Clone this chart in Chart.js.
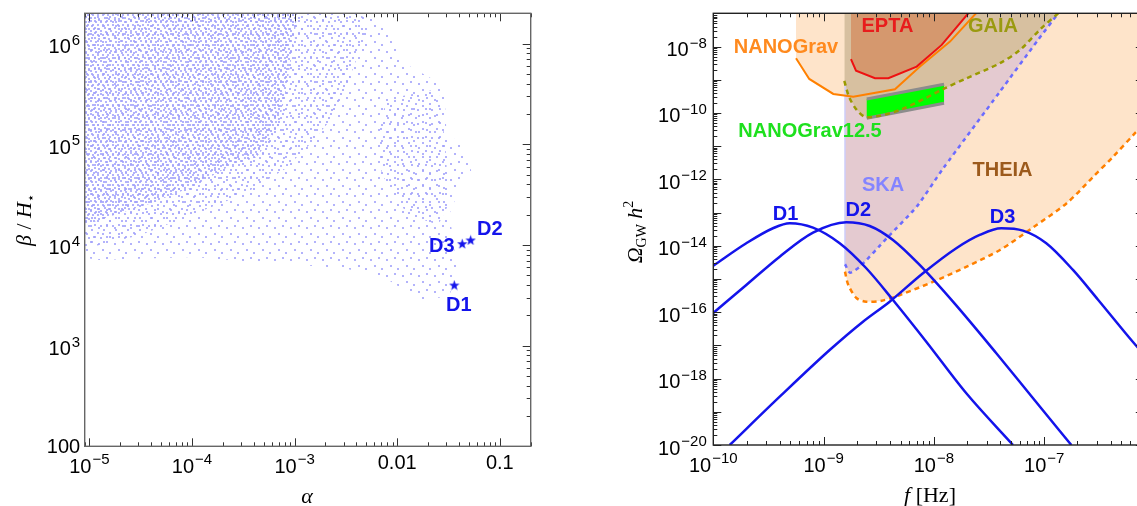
<!DOCTYPE html>
<html>
<head>
<meta charset="utf-8">
<script src="https://cdn.jsdelivr.net/npm/chart.js@4.4.1/dist/chart.umd.min.js"></script>
<style>
  html, body { margin: 0; padding: 0; background: #fff; overflow: hidden; }
  #wrap { position: relative; width: 1137px; height: 506px; overflow: hidden; }
  #scanBox { position: absolute; left: 0; top: 0; }
  #specBox { position: absolute; left: 580px; top: 0; }
</style>
</head>
<body>
<div id="wrap">
  <div id="scanBox"><canvas id="scanChart" width="560" height="506"></canvas></div>
  <div id="specBox"><canvas id="spectrumChart" width="570" height="506"></canvas></div>
</div>
<script>
// ---------- left panel: alpha vs beta/H ----------
const alphaTicks = [1e-5, 1e-4, 1e-3, 0.01, 0.1];
const alphaTickText = ["10^\u22125", "10^\u22124", "10^\u22123", "0.01", "0.1"];
const betaTicks = [100, 1e3, 1e4, 1e5, 1e6];
const betaTickText = ["100", "10^3", "10^4", "10^5", "10^6"];

// outline of the scan cloud (log10 alpha, log10 beta/H)
const cloudOuterLogA = [-5.1, -2.39, -2.08, -1.99, -1.87, -1.645, -1.54, -1.52, -1.384, -1.279, -1.384, -1.49, -1.42, -1.49, -1.77, -2.13, -2.53, -3.26, -3.99, -4.9, -5.1];
const cloudOuterLogB = [6.5, 6.5, 6.07, 5.92, 5.77, 5.64, 5.54, 5.11, 5.01, 4.74, 4.58, 4.31, 3.78, 3.49, 3.45, 3.68, 3.77, 3.82, 3.88, 3.85, 3.88];
const cloudMidLogA = [-5.1, -2.39, -2.3, -2.45, -2.6, -2.85, -3.1, -3.5, -4.0, -4.5, -5.1];
const cloudMidLogB = [6.5, 6.5, 6.1, 5.7, 5.3, 5.0, 4.75, 4.5, 4.3, 4.1, 3.95];
const cloudCoreLogA = [-5.1, -2.95, -3.02, -3.09, -3.16, -3.37, -3.64, -3.99, -4.41, -4.72, -5.1];
const cloudCoreLogB = [6.5, 6.5, 5.93, 5.5, 5.17, 4.87, 4.78, 4.58, 4.41, 4.31, 4.18];
const cloudBandLogA = [-2.1, -1.6, -1.53, -1.5, -1.6, -1.9, -2.15, -2.2];
const cloudBandLogB = [5.45, 5.55, 5.0, 4.4, 4.2, 4.3, 4.7, 5.1];

// benchmark points
const benchNames = ["D1", "D2", "D3"];
const benchAlpha = [0.036, 0.052, 0.043];
const benchBeta = [4000, 11200, 10300];
const benchLabelAt = [[0.0398, 2520], [0.0798, 14350], [0.0272, 9730]];

// ---------- right panel: GW spectra (log10 f, log10 Omega h^2) ----------
const freqTicks = [1e-10, 1e-9, 1e-8, 1e-7];
const freqTickText = ["10^\u221210", "10^\u22129", "10^\u22128", "10^\u22127"];
const omegaTicks = [1e-20, 1e-18, 1e-16, 1e-14, 1e-12, 1e-10, 1e-8];
const omegaTickText = ["10^\u221220", "10^\u221218", "10^\u221216", "10^\u221214", "10^\u221212", "10^\u221210", "10^\u22128"];

const nanogravLogF = [-9.25, -9.13, -8.912, -8.731, -8.353, -8.126, -7.854, -7.618];
const nanogravLogO = [-8.353, -8.976, -9.428, -9.509, -9.286, -8.605, -7.852, -7.0];
const eptaLogF = [-8.752, -8.706, -8.534, -8.413, -8.156, -7.929, -7.688];
const eptaLogO = [-8.382, -8.726, -8.955, -8.955, -8.605, -7.952, -7.0];
const gaiaLogF = [-8.812, -8.770, -8.700, -8.609, -8.307, -7.899, -7.703, -7.401, -7.219, -7.035, -6.872];
const gaiaLogO = [-9.036, -9.509, -9.910, -10.130, -9.910, -9.256, -8.955, -8.503, -8.102, -7.479, -7.0];
const skaLogF = [-8.806, -8.761, -8.670, -8.428, -8.156, -7.915, -7.401, -7.056, -6.872];
const skaLogO = [-14.557, -14.810, -14.630, -13.774, -12.822, -11.666, -9.358, -7.801, -7.0];
const theiaLogF = [-8.806, -8.776, -8.700, -8.613, -8.473, -8.307, -8.005, -7.703, -7.401, -7.099, -6.796, -6.555, -6.374, -6.177, -6.0];
const theiaLogO = [-14.780, -15.181, -15.581, -15.684, -15.654, -15.482, -15.081, -14.630, -14.127, -13.443, -12.720, -11.919, -11.316, -10.611, -10.0];
const ng125LogF = [-8.609, -7.908, -7.908, -8.609];
const ng125LogO = [-9.578, -9.135, -9.708, -10.160];

const d1LogF = [-10.003, -9.701, -9.459, -9.307, -9.096, -8.854, -8.613, -8.371, -8.069, -7.706, -7.283];
const d1LogO = [-14.608, -13.925, -13.473, -13.322, -13.455, -13.925, -14.678, -15.633, -16.889, -18.443, -20.0];
const d2LogF = [-10.003, -9.701, -9.398, -9.096, -8.794, -8.582, -8.371, -8.129, -7.827, -7.434, -7.101, -6.754];
const d2LogO = [-16.033, -15.181, -14.328, -13.605, -13.292, -13.404, -13.825, -14.578, -15.684, -17.238, -18.593, -20.0];
const d3LogF = [-9.851, -9.398, -8.945, -8.643, -8.401, -8.099, -7.797, -7.585, -7.389, -7.192, -6.981, -6.739, -6.51, -6.195, -6.05];
const d3LogO = [-20.0, -18.545, -17.139, -16.286, -15.684, -14.828, -14.075, -13.675, -13.473, -13.545, -13.925, -14.729, -15.633, -16.9, -17.45];

const spectrumNotes = [
  ["EPTA", -8.421, -7.410, "#e81c1c"],
  ["GAIA", -7.464, -7.410, "#9a9a10"],
  ["NANOGrav", -9.341, -8.027, "#ff8a1e"],
  ["NANOGrav12.5", -9.123, -10.563, "#1ee01e"],
  ["THEIA", -7.378, -11.738, "#9c5a1c"],
  ["SKA", -8.461, -12.190, "#8484ff"],
  ["D1", -9.344, -13.072, "#1414eb"],
  ["D2", -8.685, -12.946, "#1414eb"],
  ["D3", -7.378, -13.148, "#1414eb"],
];

// ---------- helpers ----------
const toPts = (lx, ly) => lx.map((v, i) => ({ x: 10 ** v, y: 10 ** ly[i] }));
const tickFont = '20px "Liberation Sans", Arial, Helvetica, sans-serif';
const supFont = '15px "Liberation Sans", Arial, Helvetica, sans-serif';
const markFont = 'bold 20px "Liberation Sans", Arial, Helvetica, sans-serif';
const serif = '"Liberation Serif", "Times New Roman", serif';
const blue = "#1414eb";

function logMarks(min, max) {
  const marks = [];
  for (let e = Math.floor(Math.log10(min)); e <= Math.ceil(Math.log10(max)); e++) {
    for (let k = 1; k < 10; k++) {
      const v = k * Math.pow(10, e);
      if (v >= min * 0.999 && v <= max * 1.001) marks.push({ v, major: k === 1 });
    }
  }
  return marks;
}

function drawPow(ctx, text, x, y, align) {
  const parts = text.split("^");
  ctx.font = tickFont;
  const wb = ctx.measureText(parts[0]).width;
  let we = 0;
  if (parts[1]) { ctx.font = supFont; we = ctx.measureText(parts[1]).width + 1; }
  const w = wb + we;
  const x0 = align === "center" ? x - w / 2 : x - w;
  ctx.textAlign = "left";
  ctx.textBaseline = "alphabetic";
  ctx.font = tickFont;
  ctx.fillText(parts[0], x0, y);
  if (parts[1]) { ctx.font = supFont; ctx.fillText(parts[1], x0 + wb + 1, y - 8.5); }
}

function drawRich(ctx, parts, x, y, rotate) {
  let w = 0;
  const widths = parts.map((p) => { ctx.font = p.font; const pw = ctx.measureText(p.t).width; w += pw; return pw; });
  ctx.save();
  ctx.translate(x, y);
  if (rotate) ctx.rotate(-Math.PI / 2);
  ctx.textAlign = "left";
  ctx.textBaseline = "alphabetic";
  ctx.fillStyle = "#000";
  let cx = -w / 2;
  parts.forEach((p, i) => { ctx.font = p.font; ctx.fillText(p.t, cx, p.dy || 0); cx += widths[i]; });
  ctx.restore();
}

// Mathematica-like frame: ticks pointing inside, labels with exponents
function makeFrame(cfg) {
  return {
    id: "frame",
    afterDraw(chart) {
      const { ctx, chartArea: a } = chart;
      const xs = chart.scales.x, ys = chart.scales.y;
      ctx.save();
      ctx.strokeStyle = cfg.tickColor;
      ctx.lineWidth = 1;
      ctx.beginPath();
      for (const m of logMarks(xs.min, xs.max)) {
        const p = Math.round(xs.getPixelForValue(m.v)) + 0.5;
        const len = m.major ? 8 : 4;
        ctx.moveTo(p, a.bottom); ctx.lineTo(p, a.bottom - len);
        ctx.moveTo(p, a.top); ctx.lineTo(p, a.top + len);
      }
      for (const m of logMarks(ys.min, ys.max)) {
        const p = Math.round(ys.getPixelForValue(m.v)) + 0.5;
        const len = m.major ? 8 : 4;
        ctx.moveTo(a.right, p); ctx.lineTo(a.right - len, p);
        if (cfg.leftTicks) { ctx.moveTo(a.left, p); ctx.lineTo(a.left + len, p); }
      }
      ctx.stroke();
      ctx.strokeStyle = cfg.frameColor;
      ctx.lineWidth = 1.4;
      ctx.strokeRect(a.left, a.top, a.right - a.left, a.bottom - a.top);

      ctx.fillStyle = "#000";
      cfg.xTicks.forEach((v, i) => {
        const t = cfg.xText[i];
        drawPow(ctx, t, xs.getPixelForValue(v), a.bottom + (t.includes("^") ? 26.5 : 23), "center");
      });
      cfg.yTicks.forEach((v, i) => {
        const t = cfg.yText[i];
        drawPow(ctx, t, a.left - cfg.yGap, ys.getPixelForValue(v) + (t.includes("^") ? 9.5 : 7), "right");
      });
      cfg.titles.forEach((tt) => drawRich(ctx, tt.parts, tt.x, tt.y, tt.rotate));
      ctx.restore();
    },
  };
}

function makeNotes(items) {
  return {
    id: "notes",
    afterDatasetsDraw(chart) {
      const { ctx } = chart;
      ctx.save();
      ctx.font = markFont;
      ctx.textAlign = "center";
      ctx.textBaseline = "middle";
      items.forEach(([text, xv, yv, color]) => {
        ctx.fillStyle = color;
        ctx.fillText(text, chart.scales.x.getPixelForValue(xv), chart.scales.y.getPixelForValue(yv));
      });
      ctx.restore();
    },
  };
}

function starImage(size, color) {
  const c = document.createElement("canvas");
  c.width = c.height = size;
  const g = c.getContext("2d");
  g.fillStyle = color;
  g.beginPath();
  for (let i = 0; i < 10; i++) {
    const r = i % 2 ? size * 0.2 : size * 0.5;
    const ang = -Math.PI / 2 + (i * Math.PI) / 5;
    g.lineTo(size / 2 + r * Math.cos(ang), size / 2 + 0.5 + r * Math.sin(ang));
  }
  g.closePath();
  g.fill();
  return c;
}

// texture for the dense scan cloud
function dotPattern(ctx, tile, spots, color) {
  const c = document.createElement("canvas");
  c.width = c.height = tile;
  const g = c.getContext("2d");
  g.fillStyle = color;
  spots.forEach(([u, v]) => g.fillRect(u, v, 2, 2));
  return ctx.createPattern(c, "repeat");
}

const shape = (pts, bg, order) => ({
  data: pts, showLine: true, fill: "shape", backgroundColor: bg,
  borderColor: "transparent", borderWidth: 0, pointRadius: 0, order,
});

// ---------- left chart ----------
const scanCtx = document.getElementById("scanChart").getContext("2d");
const dotColor = "rgba(160,160,250,0.8)";
new Chart(scanCtx, {
  type: "scatter",
  data: {
    datasets: [
      shape(toPts(cloudOuterLogA, cloudOuterLogB), dotPattern(scanCtx, 16, [[2, 3], [10, 1], [6, 9], [13, 12]], dotColor), 6),
      shape(toPts(cloudMidLogA, cloudMidLogB), dotPattern(scanCtx, 12, [[1, 4], [7, 1], [10, 8], [4, 9]], dotColor), 5),
      shape(toPts(cloudBandLogA, cloudBandLogB), dotPattern(scanCtx, 14, [[2, 2], [9, 5], [5, 10], [11, 11]], dotColor), 4),
      shape(toPts(cloudCoreLogA, cloudCoreLogB), dotPattern(scanCtx, 10, [[0, 0], [5, 1], [2, 4], [7, 4], [4, 7], [8, 8]], dotColor), 3),
      {
        data: benchAlpha.map((a, i) => ({ x: a, y: benchBeta[i] })),
        pointStyle: starImage(11, blue),
        pointRadius: 5,
        order: 1,
      },
    ],
  },
  options: {
    responsive: false,
    devicePixelRatio: 1,
    animation: false,
    layout: { padding: { left: 0, right: 29.3, top: 13.3, bottom: 0 } },
    plugins: { legend: { display: false }, tooltip: { enabled: false } },
    scales: {
      x: {
        type: "logarithmic", min: 9e-6, max: 0.2,
        ticks: { display: false }, grid: { display: false }, border: { display: false },
        afterFit: (s) => { s.height = 59.7; },
      },
      y: {
        type: "logarithmic", min: 100, max: 2e6,
        ticks: { display: false }, grid: { display: false }, border: { display: false },
        afterFit: (s) => { s.width = 84.7; },
      },
    },
  },
  plugins: [
    makeNotes(benchNames.map((n, i) => [n, benchLabelAt[i][0], benchLabelAt[i][1], blue])),
    makeFrame({
      tickColor: "#333", frameColor: "#666", leftTicks: false, yGap: 4.5,
      xTicks: alphaTicks, xText: alphaTickText, yTicks: betaTicks, yText: betaTickText,
      titles: [
        { parts: [{ t: "\u03b1", font: "italic 22px " + serif }], x: 307, y: 503 },
        {
          parts: [
            { t: "\u03b2", font: "italic 22px " + serif },
            { t: " / ", font: "22px " + serif },
            { t: "H", font: "italic 22px " + serif },
            { t: "\u22c6", font: "13px DejaVu Sans, sans-serif", dy: 4 },
          ],
          x: 31, y: 220, rotate: true,
        },
      ],
    }),
  ],
});

// ---------- right chart ----------
const specCtx = document.getElementById("spectrumChart").getContext("2d");
const fillEnd = (lx, ly, bg, order) => ({
  data: toPts(lx, ly), showLine: true, fill: "end", backgroundColor: bg,
  borderColor: "transparent", borderWidth: 0, pointRadius: 0, order,
});
const curve = (pts, color, width, dash, tension, order) => ({
  data: pts, showLine: true, fill: false, borderColor: color, borderWidth: width,
  borderDash: dash, tension, pointRadius: 0, order,
});
const spectrum = (pts, order) => ({
  data: pts, showLine: true, fill: false, borderColor: blue, borderWidth: 2.5,
  cubicInterpolationMode: "monotone", pointRadius: 0, order,
});
const peach = "rgb(254,228,202)";

new Chart(specCtx, {
  type: "scatter",
  data: {
    datasets: [
      fillEnd(theiaLogF, theiaLogO, peach, 40),
      fillEnd(nanogravLogF, nanogravLogO, peach, 39),
      fillEnd(skaLogF, skaLogO, "rgb(228,202,208)", 38),
      fillEnd(gaiaLogF, gaiaLogO, "rgb(215,192,160)", 37),
      fillEnd(eptaLogF, eptaLogO, "rgb(213,152,110)", 36),
      shape(toPts(ng125LogF, ng125LogO), "#00ff00", 35),
      curve(toPts(ng125LogF.slice(0, 2), ng125LogO.slice(0, 2)), "#8c8c8c", 3, [], 0, 34),
      curve(toPts(ng125LogF.slice(2), ng125LogO.slice(2)), "#8c8c8c", 3, [], 0, 33),
      curve(toPts([skaLogF[0], skaLogF[0]], [gaiaLogO[0], skaLogO[0]]), "rgb(205,205,250)", 1.5, [], 0, 32),
      curve(toPts(theiaLogF, theiaLogO), "#ff8000", 2.5, [5, 4], 0.3, 20),
      curve(toPts(skaLogF, skaLogO), "#6b6bff", 2.5, [4, 4], 0.2, 19),
      curve(toPts(gaiaLogF, gaiaLogO), "#9a9a00", 2.5, [5, 4], 0.3, 18),
      curve(toPts(nanogravLogF, nanogravLogO), "#ff8000", 2, [], 0, 17),
      curve(toPts(eptaLogF, eptaLogO), "#ee1111", 2, [], 0, 16),
      spectrum(toPts(d1LogF, d1LogO), 3),
      spectrum(toPts(d2LogF, d2LogO), 2),
      spectrum(toPts(d3LogF, d3LogO), 1),
    ],
  },
  options: {
    responsive: false,
    devicePixelRatio: 1,
    animation: false,
    layout: { padding: { left: 0, right: 6.2, top: 13.3, bottom: 0 } },
    plugins: { legend: { display: false }, tooltip: { enabled: false } },
    scales: {
      x: {
        type: "logarithmic", min: 1e-10, max: 8e-7,
        ticks: { display: false }, grid: { display: false }, border: { display: false },
        afterFit: (s) => { s.height = 61; },
      },
      y: {
        type: "logarithmic", min: 1e-20, max: 1e-7,
        ticks: { display: false }, grid: { display: false }, border: { display: false },
        afterFit: (s) => { s.width = 133.3; },
      },
    },
  },
  plugins: [
    makeNotes(spectrumNotes.map(([t, lf, lo, c]) => [t, 10 ** lf, 10 ** lo, c])),
    makeFrame({
      tickColor: "#222", frameColor: "#222", leftTicks: true, yGap: 6.5,
      xTicks: freqTicks, xText: freqTickText, yTicks: omegaTicks, yText: omegaTickText,
      titles: [
        {
          parts: [
            { t: "f", font: "italic 22px " + serif },
            { t: " [Hz]", font: "22px " + serif },
          ],
          x: 350, y: 502,
        },
        {
          parts: [
            { t: "\u03a9", font: "italic 22px " + serif },
            { t: "GW", font: "14px " + serif, dy: 4 },
            { t: " h", font: "italic 22px " + serif },
            { t: "2", font: "14px " + serif, dy: -9 },
          ],
          x: 62, y: 232, rotate: true,
        },
      ],
    }),
  ],
});
</script>
</body>
</html>
